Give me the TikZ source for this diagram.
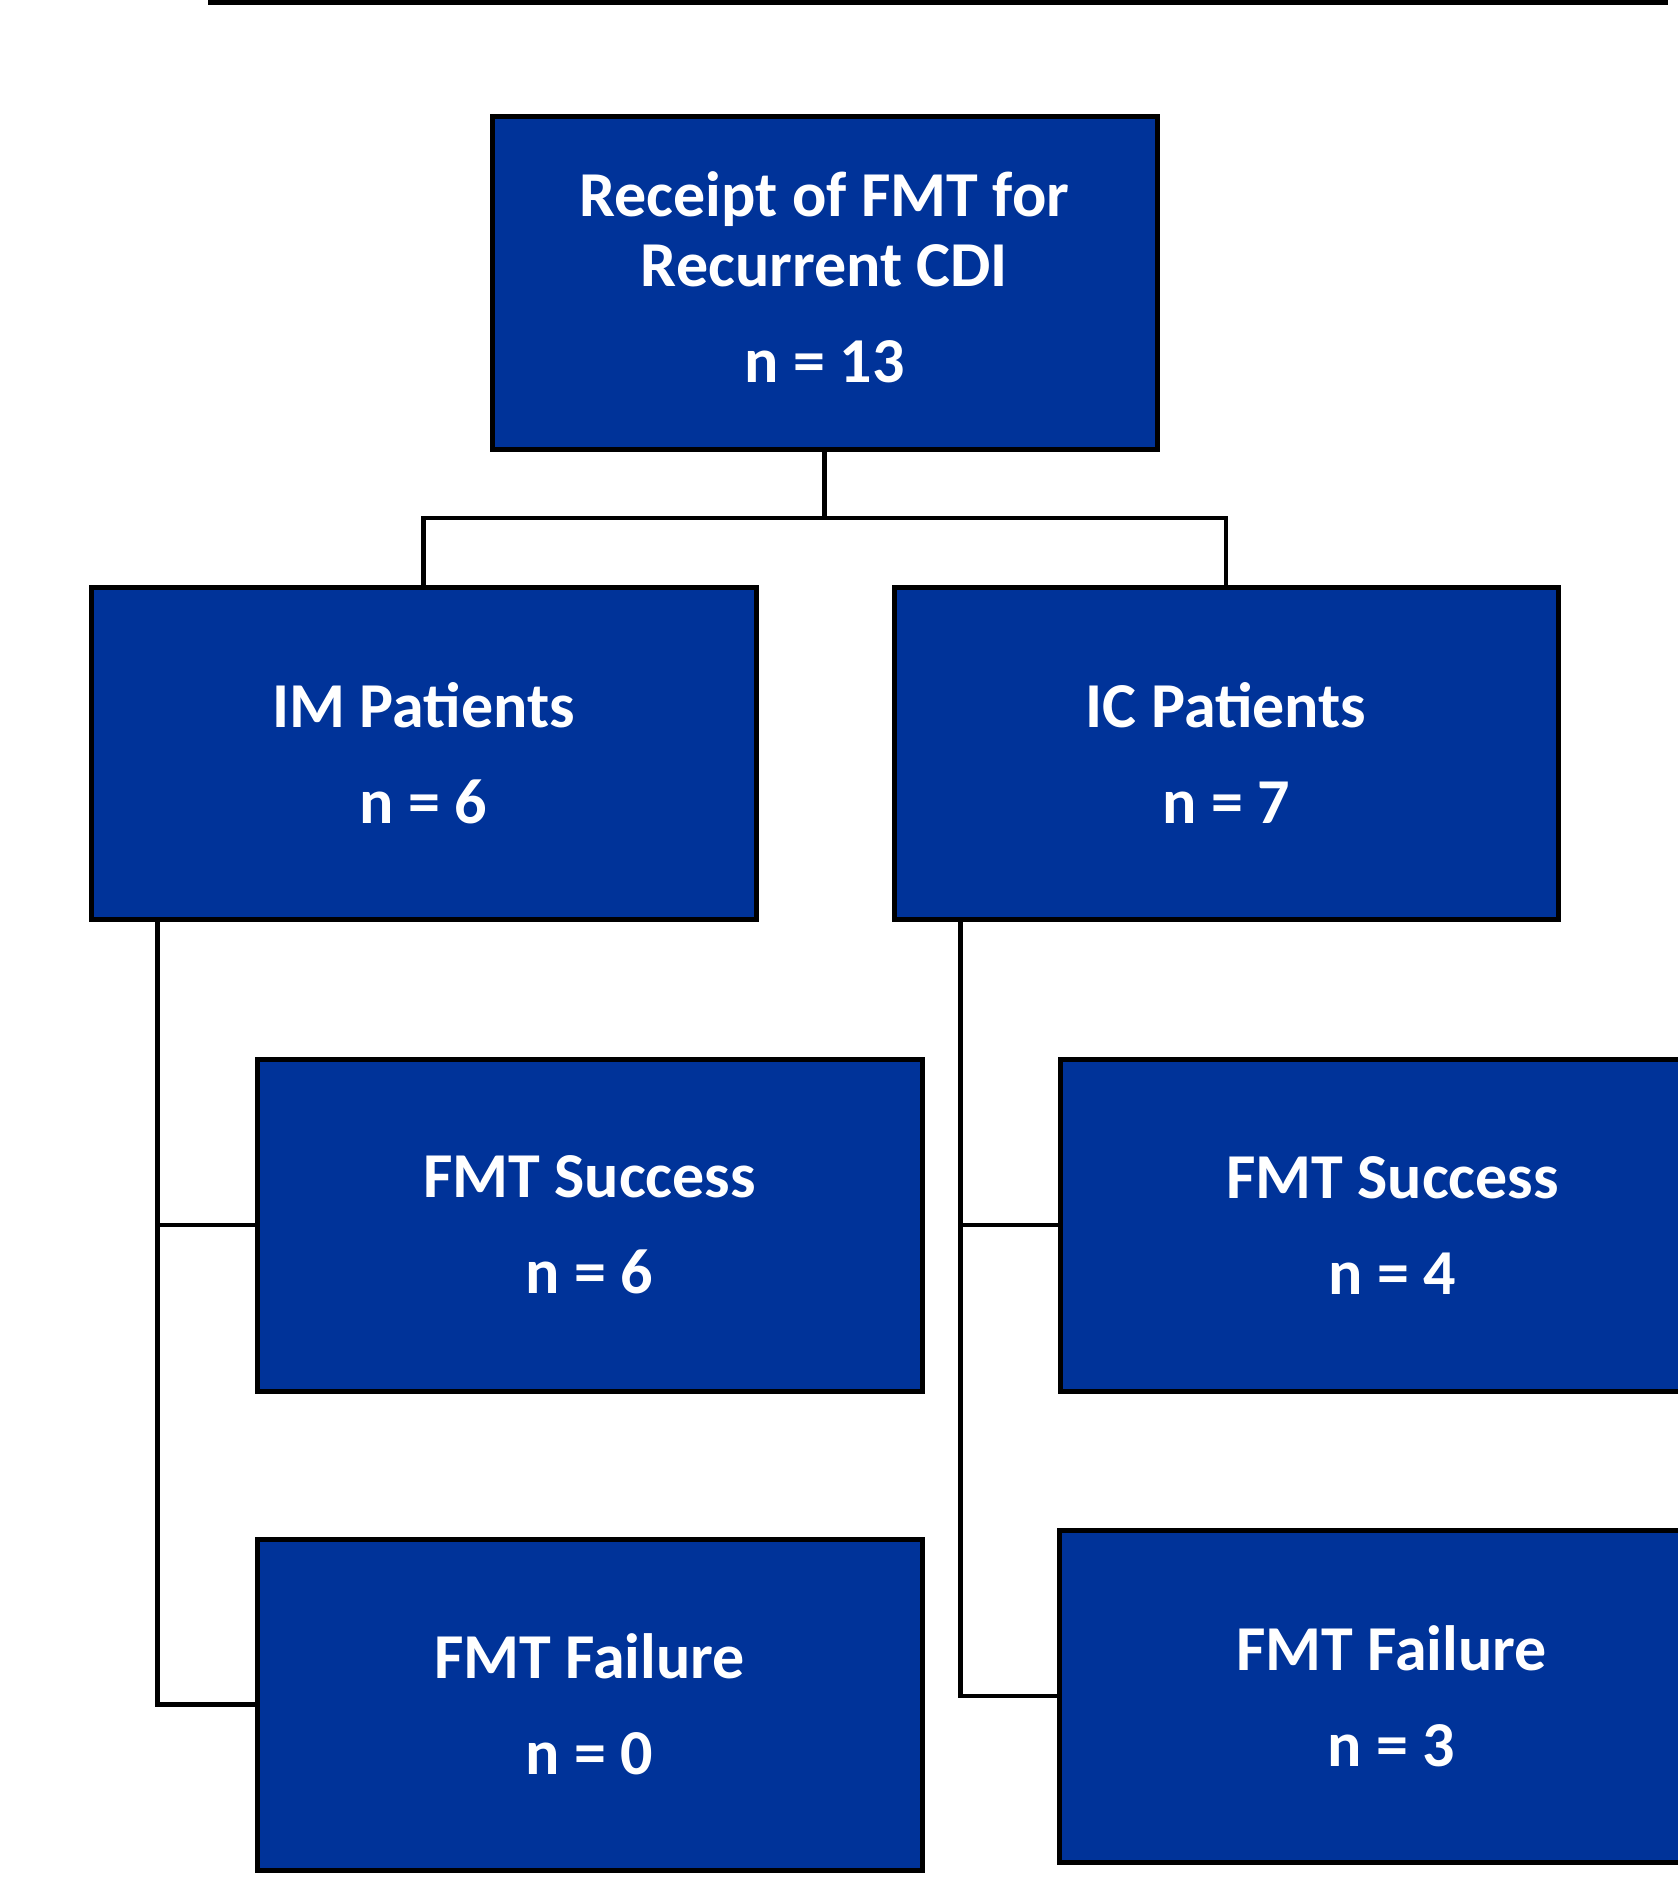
\documentclass[tikz,border=0pt]{standalone}
\usepackage{fontspec}
\setmainfont{Carlito}
\definecolor{boxblue}{RGB}{0,51,153}
\tikzset{
  fbox/.style={draw=black, line width=5pt, fill=boxblue, text=white, align=center,
    font=\bfseries\fontsize{64}{96}\selectfont, inner sep=0pt},
  topbox/.style={fbox, font=\bfseries\fontsize{64}{70}\selectfont},
  conn/.style={draw=black, line width=4.5pt}
}
\begin{document}
\begin{tikzpicture}[x=1pt,y=-1pt]
\useasboundingbox (0,0) rectangle (1678,1882);
\clip (0,0) rectangle (1678,1882);
\draw[line width=10pt] (208,0) -- (1668,0);
\node[topbox, minimum width=665pt, minimum height=333pt, text depth=10pt] (top) at (824.5,282.5)
  {Receipt of FMT for\\Recurrent CDI\\[26pt]n = 13};
\node[fbox, minimum width=665pt, minimum height=332pt] (im) at (423.5,753) {IM Patients\\n = 6};
\node[fbox, minimum width=664pt, minimum height=332pt] (ic) at (1226,753) {IC Patients\\n = 7};
\node[fbox, minimum width=665pt, minimum height=332pt] (sl) at (589.5,1225) {FMT Success\\n = 6};
\node[fbox, minimum width=665pt, minimum height=331pt] (fl) at (589.5,1704.5) {FMT Failure\\n = 0};
\node[fbox, minimum width=665pt, minimum height=332pt] (sr) at (1392.5,1225) {FMT Success\\n = 4};
\node[fbox, minimum width=665pt, minimum height=332pt] (fr) at (1391.5,1696) {FMT Failure\\n = 3};
\coordinate (j) at (824.5,518);
\draw[conn] (top.south) -- (j);
\draw[conn] (im.north) |- (j) -| (ic.north);
\coordinate (lt) at ([xshift=69pt]im.south west);
\draw[conn] (lt) |- (fl.west);
\draw[conn] (lt |- sl.west) -- (sl.west);
\coordinate (rt) at ([xshift=69pt]ic.south west);
\draw[conn] (rt) |- (fr.west);
\draw[conn] (rt |- sr.west) -- (sr.west);
\end{tikzpicture}
\end{document}
